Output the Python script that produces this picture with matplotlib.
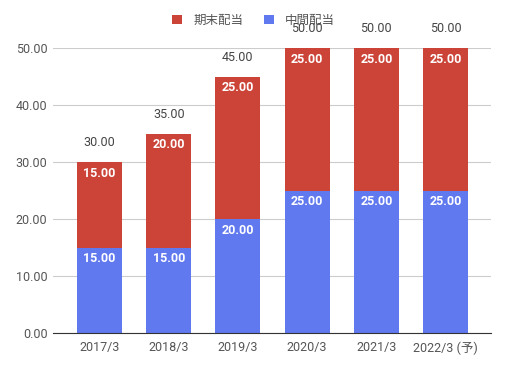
import matplotlib.pyplot as plt
import numpy as np

plt.rcParams['font.family'] = ['Roboto', 'Noto Sans CJK JP', 'DejaVu Sans']

years = ['2017/3', '2018/3', '2019/3', '2020/3', '2021/3', '2022/3 (予)']
interim = [15, 15, 20, 25, 25, 25]
year_end = [15, 20, 25, 25, 25, 25]
totals = [a + b for a, b in zip(interim, year_end)]

blue = '#6079ef'
red = '#cc4438'

fig = plt.figure(figsize=(5.07, 3.69), dpi=100)
ax = fig.add_axes([53 / 507, 36 / 369, 438 / 507, 285 / 369])

x = np.arange(len(years))
w = 0.65
ax.bar(x, interim, w, color=blue, label='中間配当', zorder=3)
ax.bar(x, year_end, w, bottom=interim, color=red, label='期末配当', zorder=3)

for i in range(len(years)):
    ax.text(x[i], interim[i] - 0.8, f'{interim[i]:.2f}', ha='center', va='top',
            color='white', fontsize=9, fontweight='bold', zorder=4)
    ax.text(x[i], totals[i] - 0.8, f'{year_end[i]:.2f}', ha='center', va='top',
            color='white', fontsize=9, fontweight='bold', zorder=4)
    ax.text(x[i], totals[i] + 2.2, f'{totals[i]:.2f}', ha='center', va='bottom',
            color='#444444', fontsize=9, zorder=4, clip_on=False)

ax.set_xlim(-0.672, 5.657)
ax.set_ylim(0, 50)
ax.set_yticks(range(0, 51, 10))
ax.set_yticklabels([f'{v:.2f}' for v in range(0, 51, 10)])
ax.set_xticks(x)
ax.set_xticklabels(years)
ax.tick_params(axis='both', length=0, labelsize=9, labelcolor='#555555')
ax.tick_params(axis='y', pad=4)
ax.tick_params(axis='x', pad=6)
ax.grid(axis='y', color='#cccccc', linewidth=0.8, zorder=0)
for s in ['top', 'right', 'left']:
    ax.spines[s].set_visible(False)
ax.spines['bottom'].set_color('#333333')
ax.spines['bottom'].set_zorder(5)

handles, labels = ax.get_legend_handles_labels()
fig.legend(handles[::-1], labels[::-1], loc='center', bbox_to_anchor=(0.5, 0.945),
           ncol=2, frameon=False, fontsize=9, handlelength=0.8, handleheight=0.8,
           columnspacing=1.6, handletextpad=0.9, labelcolor='#555555')

fig.savefig('out.png', dpi=100)
